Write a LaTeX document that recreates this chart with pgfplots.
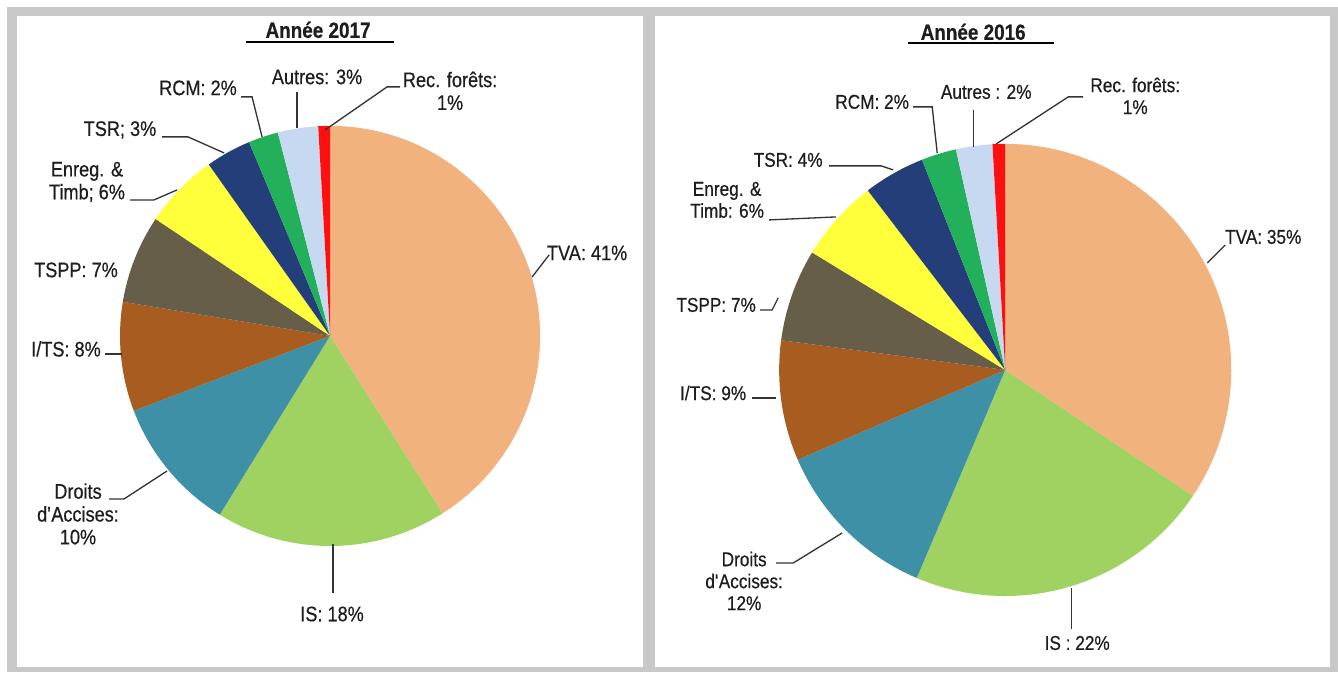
\documentclass[border=0pt]{standalone}
\usepackage{pgfplots}
\pgfplotsset{compat=1.18}
\usepackage{pgfplotstable}
\usepackage{fontspec}
\setmainfont{Liberation Sans}[FakeStretch=0.86, FakeBold=0.5]

\definecolor{cTVA}{HTML}{F2B27E}
\definecolor{cIS}{HTML}{A0D262}
\definecolor{cDA}{HTML}{3D90A6}
\definecolor{cITS}{HTML}{A85C20}
\definecolor{cTSPP}{HTML}{665E48}
\definecolor{cENR}{HTML}{FFFF3C}
\definecolor{cTSR}{HTML}{233E78}
\definecolor{cRCM}{HTML}{22B05A}
\definecolor{cAUT}{HTML}{C6D9F0}
\definecolor{cREC}{HTML}{FF1010}
\definecolor{frame}{HTML}{C8C8C8}
\definecolor{labc}{HTML}{1E1E1E}
\definecolor{lead}{HTML}{333333}

% shares in %, clockwise from 12 o'clock
\pgfplotstableread{
name value col
TVA  41.0 cTVA
IS   17.8 cIS
DA   10.4 cDA
ITS   8.4 cITS
TSPP  6.8 cTSPP
ENR   5.8 cENR
TSR   3.5 cTSR
RCM   2.3 cRCM
AUT   3.1 cAUT
REC   0.9 cREC
}\pieA

\pgfplotstableread{
name value col
TVA  34.4 cTVA
IS   22.0 cIS
DA   12.1 cDA
ITS   8.6 cITS
TSPP  6.6 cTSPP
ENR   5.9 cENR
TSR   4.4 cTSR
RCM   2.5 cRCM
AUT   2.6 cAUT
REC   0.9 cREC
}\pieB

% #1 table, #2 #3 centre (px), #4 radius (px)
\newcommand\drawpie[4]{%
  \pgfplotstablegetrowsof{#1}%
  \pgfmathtruncatemacro\lastrow{\pgfplotsretval-1}%
  \gdef\cum{0}%
  \pgfmathsetmacro\rad{#4*0.02}%
  \foreach \i in {0,...,\lastrow}{%
    \pgfplotstablegetelem{\i}{value}\of{#1}\let\val\pgfplotsretval
    \pgfplotstablegetelem{\i}{col}\of{#1}\let\slicecol\pgfplotsretval
    \pgfmathsetmacro\aone{90-3.6*\cum}%
    \pgfmathparse{\cum+\val}\xdef\cum{\pgfmathresult}%
    \pgfmathsetmacro\atwo{90-3.6*\cum}%
    \edef\tmp{\noexpand\fill[\slicecol] (axis cs:#2,#3) -- ++(\aone:\rad cm)
      arc[start angle=\aone, end angle=\atwo, radius=\rad cm] -- cycle;}%
    \tmp
  }%
}

\begin{document}
\begin{tikzpicture}[
    lab/.style={font=\fontsize{12}{13}\selectfont, text=labc, align=center, inner sep=0pt},
    labr/.style={font=\fontsize{11.4}{12.5}\selectfont, text=labc, align=center, inner sep=0pt},
    ttl/.style={font=\fontsize{12.5}{14}\selectfont\bfseries, text=labc, inner sep=0pt},
    ld/.style={draw=lead, line width=0.75pt},
]
\begin{axis}[
    at={(0,0)}, anchor=south west,
    x=0.02cm, y=0.02cm, y dir=reverse,
    xmin=0, xmax=1338, ymin=0, ymax=672,
    hide axis, clip=false,
]
\fill[white] (axis cs:0,0) rectangle (axis cs:1338,672);
% frames
\fill[frame] (axis cs:7,7) rectangle (axis cs:1338,16);
\fill[frame] (axis cs:7,7) rectangle (axis cs:17,672);
\fill[frame] (axis cs:643,7) rectangle (axis cs:655,672);
\fill[frame] (axis cs:1330,7) rectangle (axis cs:1338,672);
\fill[frame] (axis cs:7,667) rectangle (axis cs:1338,672);

% ---- 2017 ----
\drawpie{\pieA}{330}{336}{210}
\node[ttl] at (axis cs:318,30) {Année 2017};
\draw[black, line width=1.1pt] (axis cs:246,42) -- (axis cs:394,42);
\node[lab] at (axis cs:450,91) {Rec. forêts:\\1\%};
\node[lab] at (axis cs:317,77) {Autres: 3\%};
\node[lab] at (axis cs:198,88) {RCM: 2\%};
\node[lab] at (axis cs:120,130) {TSR; 3\%};
\node[lab] at (axis cs:87,182) {Enreg. \&\\Timb; 6\%};
\node[lab] at (axis cs:76,270) {TSPP: 7\%};
\node[lab] at (axis cs:66,349) {I/TS: 8\%};
\node[lab] at (axis cs:78,514) {Droits\\d\textquotesingle Accises:\\10\%};
\node[lab] at (axis cs:332,614) {IS: 18\%};
\node[lab] at (axis cs:587,253) {TVA: 41\%};
\draw[ld] (axis cs:325,130) -- (axis cs:387,87) -- (axis cs:400,87);
\draw[ld] (axis cs:297,128) -- (axis cs:297,92);
\draw[ld] (axis cs:262,137) -- (axis cs:252,97) -- (axis cs:241,97);
\draw[ld] (axis cs:224,153) -- (axis cs:188,137) -- (axis cs:162,137);
\draw[ld] (axis cs:177,190) -- (axis cs:154,200) -- (axis cs:130,200);
\draw[ld] (axis cs:105,354) -- (axis cs:122,354);
\draw[ld] (axis cs:167,471) -- (axis cs:124,499) -- (axis cs:109,499);
\draw[ld] (axis cs:333,544) -- (axis cs:333,593);
\draw[ld] (axis cs:532,277) -- (axis cs:549,255);

% ---- 2016 ----
\drawpie{\pieB}{1005}{370}{226}
\node[ttl] at (axis cs:973,32) {Année 2016};
\draw[black, line width=1.1pt] (axis cs:908,43) -- (axis cs:1054,43);
\node[labr] at (axis cs:1135,96) {Rec. forêts:\\1\%};
\node[labr] at (axis cs:986,92) {Autres : 2\%};
\node[labr] at (axis cs:872,102) {RCM: 2\%};
\node[labr] at (axis cs:788,160) {TSR: 4\%};
\node[labr] at (axis cs:727,200) {Enreg. \&\\Timb: 6\%};
\node[labr] at (axis cs:716,305) {TSPP: 7\%};
\node[labr] at (axis cs:713,393) {I/TS: 9\%};
\node[labr] at (axis cs:744,581) {Droits\\d\textquotesingle Accises:\\12\%};
\node[labr] at (axis cs:1077,643) {IS : 22\%};
\node[labr] at (axis cs:1263,237) {TVA: 35\%};
\draw[ld] (axis cs:996,144) -- (axis cs:1068,97) -- (axis cs:1083,97);
\draw[ld] (axis cs:973,147) -- (axis cs:973,110);
\draw[ld] (axis cs:937,153) -- (axis cs:932,107) -- (axis cs:913,107);
\draw[ld] (axis cs:893,170) -- (axis cs:881,166) -- (axis cs:829,166);
\draw[ld] (axis cs:836,217) -- (axis cs:769,220);
\draw[ld] (axis cs:778,298) -- (axis cs:772,310) -- (axis cs:760,310);
\draw[ld] (axis cs:752,398) -- (axis cs:776,398);
\draw[ld] (axis cs:842,533) -- (axis cs:793,563) -- (axis cs:776,563);
\draw[ld] (axis cs:1071,588) -- (axis cs:1071,629);
\draw[ld] (axis cs:1207,263) -- (axis cs:1225,245);
\end{axis}
\pgfresetboundingbox
\path[use as bounding box] (0,0) rectangle (26.76cm,13.44cm);
\end{tikzpicture}
\end{document}
